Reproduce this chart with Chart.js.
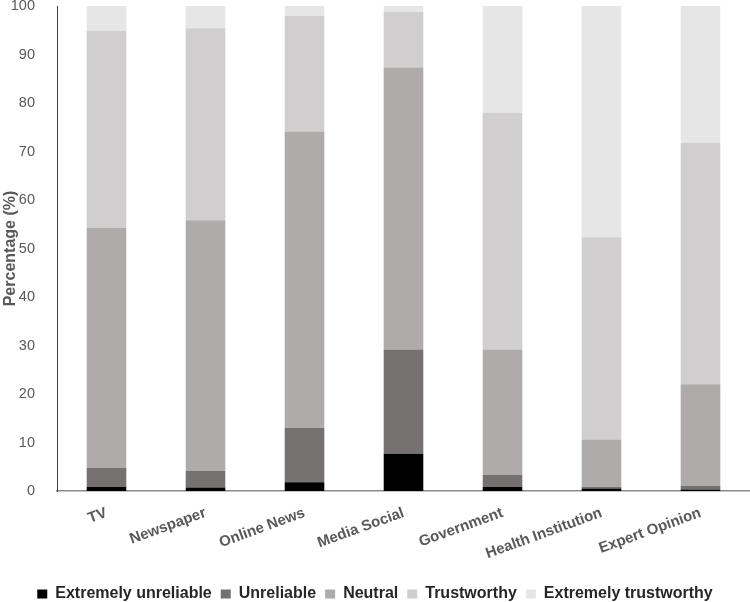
<!DOCTYPE html>
<html>
<head>
<meta charset="utf-8">
<script src="https://cdn.jsdelivr.net/npm/chart.js@4"></script>
<style>
  html, body { margin: 0; padding: 0; background: #fff; }
  #wrap { width: 750px; height: 602px; }
</style>
</head>
<body>
<div id="wrap"><canvas id="chart" width="750" height="602"></canvas></div>
<script>
const categories = ['TV', 'Newspaper', 'Online News', 'Media Social', 'Government', 'Health Institution', 'Expert Opinion'];

const extremelyUnreliable = [0.8, 0.7, 1.8, 7.7, 0.8, 0.5, 0.3];
const unreliable          = [4.0, 3.4, 11.2, 21.5, 2.5, 0.4, 0.8];
const neutral             = [49.5, 51.7, 61.1, 58.1, 25.9, 9.7, 20.9];
const trustworthy         = [40.6, 39.6, 23.9, 11.5, 48.8, 41.7, 49.8];
const extremelyTrustworthy = [5.1, 4.6, 2.0, 1.2, 22.0, 47.7, 28.2];

const seriesNames = ['Extremely unreliable', 'Unreliable', 'Neutral', 'Trustworthy', 'Extremely trustworthy'];
const seriesColors = ['#000000', '#767171', '#afabab', '#d0cece', '#e7e6e6'];

const yTicks = [0, 10, 20, 30, 40, 50, 60, 70, 80, 90, 100];

const seriesValues = [extremelyUnreliable, unreliable, neutral, trustworthy, extremelyTrustworthy];

const ctx = document.getElementById('chart').getContext('2d');
new Chart(ctx, {
    type: 'bar',
    data: {
        labels: categories,
        datasets: seriesValues.map((vals, i) => ({
            label: seriesNames[i],
            data: vals,
            backgroundColor: seriesColors[i],
            borderWidth: 0,
            barPercentage: 0.4,
            categoryPercentage: 1.0
        }))
    },
    options: {
        responsive: false,
        animation: false,
        layout: { padding: { top: 6, right: 0, left: 0, bottom: -10 } },
        scales: {
            x: {
                stacked: true,
                afterFit: axis => {
                    axis.height = 86;
                    axis.paddingLeft = 0;
                    axis.paddingRight = 0;
                },
                grid: { display: false },
                border: { color: '#8c8c8c', width: 1.5 },
                ticks: {
                    color: '#595959',
                    font: { family: 'Liberation Sans', size: 15, weight: 'bold' },
                    minRotation: 20,
                    maxRotation: 20,
                    padding: 5
                }
            },
            y: {
                stacked: true,
                min: 0,
                max: 100,
                afterFit: axis => {
                    axis.width = 57;
                    axis.paddingTop = 0;
                    axis.paddingBottom = 0;
                },
                afterBuildTicks: axis => { axis.ticks = yTicks.map(v => ({ value: v })); },
                grid: { display: false },
                border: { color: '#404040', width: 1 },
                ticks: {
                    color: '#595959',
                    font: { family: 'Liberation Sans', size: 14.5 },
                    padding: 14
                },
                title: {
                    display: true,
                    text: 'Percentage (%)',
                    color: '#595959',
                    font: { family: 'Liberation Sans', size: 16, weight: 'bold' },
                    padding: { top: 1, bottom: 0 }
                }
            }
        },
        plugins: {
            legend: {
                position: 'bottom',
                labels: {
                    color: '#262626',
                    font: { family: 'Liberation Sans', size: 16, weight: 'bold' },
                    boxWidth: 10,
                    boxHeight: 9,
                    padding: 9
                }
            },
            tooltip: { enabled: false }
        }
    }
});
</script>
</body>
</html>
